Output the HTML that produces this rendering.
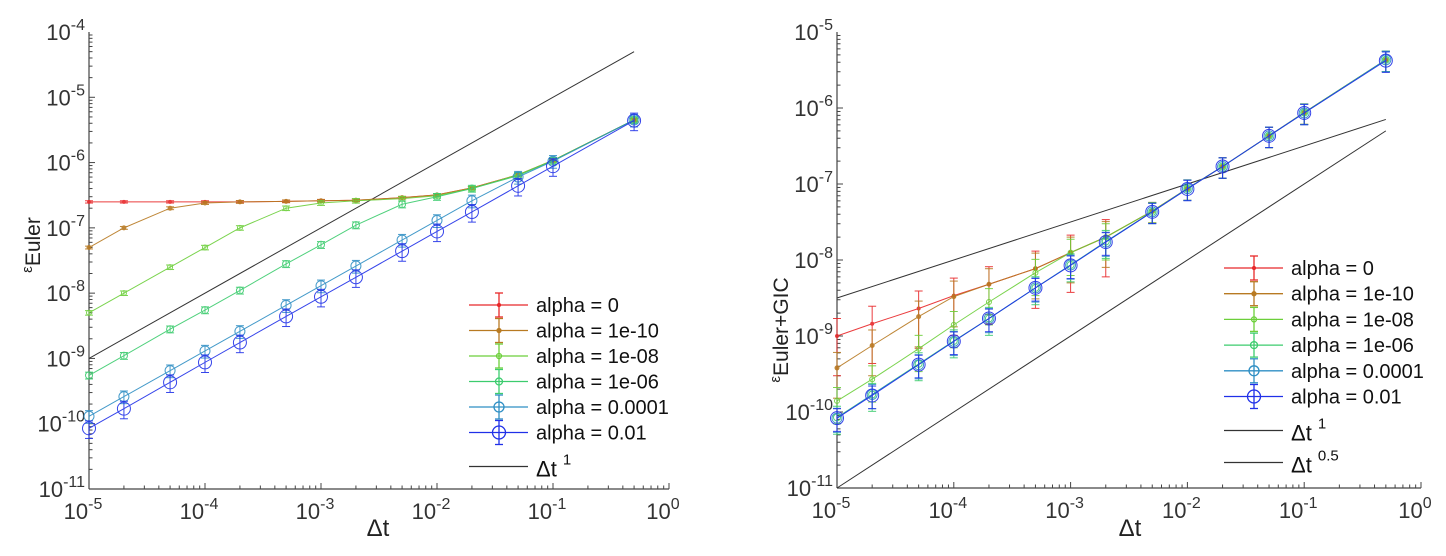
<!DOCTYPE html>
<html><head><meta charset="utf-8">
<style>
html,body{margin:0;padding:0;background:#fff;overflow:hidden;}
svg{display:block;font-family:"Liberation Sans",Arial,sans-serif;}
</style></head>
<body>
<svg id="chart" width="1446" height="556" viewBox="0 0 1446 556" xmlns="http://www.w3.org/2000/svg"></svg>
<script>
// ---- data ----
const dtValues = [1e-5,2e-5,5e-5,1e-4,2e-4,5e-4,1e-3,2e-3,5e-3,1e-2,2e-2,5e-2,1e-1,5e-1];
const seriesNames = ["alpha = 0","alpha = 1e-10","alpha = 1e-08","alpha = 1e-06","alpha = 0.0001","alpha = 0.01"];
const leftA0   = [2.5e-7,2.5e-7,2.5e-7,2.5e-7,2.5e-7,2.55e-7,2.6e-7,2.65e-7,2.9e-7,3.2e-7,4.1e-7,6.5e-7,1.08e-6,4.5e-6];
const leftA10  = [5e-8,1e-7,2e-7,2.4e-7,2.5e-7,2.55e-7,2.6e-7,2.65e-7,2.9e-7,3.2e-7,4.1e-7,6.5e-7,1.08e-6,4.5e-6];
const leftA8   = [5e-9,1e-8,2.5e-8,5e-8,1e-7,2e-7,2.4e-7,2.6e-7,2.8e-7,3.1e-7,4e-7,6.5e-7,1.08e-6,4.5e-6];
const leftA6   = [5.5e-10,1.1e-9,2.8e-9,5.5e-9,1.1e-8,2.8e-8,5.5e-8,1.1e-7,2.3e-7,3e-7,4e-7,6.3e-7,1.07e-6,4.5e-6];
const leftA4   = [1.3e-10,2.6e-10,6.5e-10,1.3e-9,2.6e-9,6.5e-9,1.3e-8,2.6e-8,6.5e-8,1.3e-7,2.6e-7,6e-7,1.05e-6,4.5e-6];
const leftA2   = [8.5e-11,1.7e-10,4.3e-10,8.7e-10,1.75e-9,4.4e-9,8.8e-9,1.75e-8,4.4e-8,8.8e-8,1.75e-7,4.4e-7,8.8e-7,4.4e-6];
const rightA0  = [1e-9,1.45e-9,2.3e-9,3.4e-9,4.8e-9,7.7e-9,1.25e-8,2e-8,4.4e-8,8.7e-8,1.7e-7,4.3e-7,8.7e-7,4.3e-6];
const rightA10 = [3.8e-10,7.5e-10,1.8e-9,3.3e-9,4.8e-9,7.7e-9,1.25e-8,2e-8,4.4e-8,8.7e-8,1.7e-7,4.3e-7,8.7e-7,4.3e-6];
const rightA8  = [1.4e-10,2.7e-10,6.8e-10,1.4e-9,2.8e-9,6.8e-9,1.25e-8,2e-8,4.4e-8,8.7e-8,1.7e-7,4.3e-7,8.7e-7,4.3e-6];
const rightA6  = [8.5e-11,1.7e-10,4.3e-10,8.6e-10,1.7e-9,4.3e-9,8.6e-9,1.75e-8,4.3e-8,8.7e-8,1.7e-7,4.3e-7,8.7e-7,4.3e-6];
const rightA4  = [8.3e-11,1.7e-10,4.2e-10,8.5e-10,1.7e-9,4.3e-9,8.6e-9,1.72e-8,4.3e-8,8.7e-8,1.7e-7,4.3e-7,8.6e-7,4.3e-6];
const rightA2  = [8.3e-11,1.65e-10,4.2e-10,8.5e-10,1.7e-9,4.3e-9,8.5e-9,1.72e-8,4.3e-8,8.6e-8,1.7e-7,4.3e-7,8.6e-7,4.2e-6];
const leftErrFrac  = [0.04,0.05,0.08,0.12,0.22,0.3];
const rightErrFrac = [0.7,0.6,0.5,0.4,0.35,0.33];
const rightErrFracLargeDt = 0.3;
const xTickExps = [-5,-4,-3,-2,-1,0];
const leftYTickExps = [-11,-10,-9,-8,-7,-6,-5,-4];
const rightYTickExps = [-11,-10,-9,-8,-7,-6,-5];

const colors = ["#e8282a","#b87a22","#6ccf3a","#3ccc6e","#2f8fc4","#2030e8"];
const markerR = [1.5,2,2.5,3.5,5,6.5];

const svg = document.getElementById('chart');
const NS = "http://www.w3.org/2000/svg";
function mk(tag, attrs, parent){
  const e = document.createElementNS(NS, tag);
  for (const k in attrs) e.setAttribute(k, attrs[k]);
  (parent||svg).appendChild(e);
  return e;
}
function logScale(v, e0, e1, p0, p1){ return p0 + (Math.log10(v)-e0)/(e1-e0)*(p1-p0); }

function drawPanel(cfg){
  const g = mk('g', {});
  
  
  const X = v => logScale(v, -5, 0, cfg.x0, cfg.x1);
  const Y = v => logScale(v, cfg.ymin, cfg.ymax, cfg.y0, cfg.y1);
  const ax = mk('g', {stroke:"#444","stroke-width":1.2,fill:"none"}, g);
  
  
  mk('line',{x1:cfg.x0,y1:cfg.y0,x2:cfg.x1,y2:cfg.y0},ax);
  mk('line',{x1:cfg.x0,y1:cfg.y0,x2:cfg.x0,y2:cfg.y1},ax);
  for (let e=-5;e<0;e++) for (let m=1;m<10;m++){
    const px = X(m*Math.pow(10,e)); const L = m===1?6:3.5;
    mk('line',{x1:px,y1:cfg.y0,x2:px,y2:cfg.y0-L,stroke:"#444","stroke-width":1},g);
  }
  mk('line',{x1:cfg.x1,y1:cfg.y0,x2:cfg.x1,y2:cfg.y0-6,stroke:"#444","stroke-width":1},g);
  xTickExps.forEach(e=>{
    const t = mk('text',{x:X(Math.pow(10,e))-6,y:cfg.y0+30,"font-size":22,fill:"#333","text-anchor":"middle"},g);
    
    
    t.innerHTML = '10<tspan dy="-10" font-size="16">'+e+'</tspan>';
  });
  for (let e=cfg.ymin;e<cfg.ymax;e++) for (let m=1;m<10;m++){
    const py = Y(m*Math.pow(10,e)); const L = m===1?6:3.5;
    mk('line',{x1:cfg.x0,y1:py,x2:cfg.x0+L,y2:py,stroke:"#444","stroke-width":1},g);
  }
  cfg.yTicks.forEach(e=>{
    const t = mk('text',{x:cfg.x0-4,y:Y(Math.pow(10,e))+8,"font-size":22,fill:"#333","text-anchor":"end"},g);
    
    
    t.innerHTML = '10<tspan dy="-10" font-size="16">'+e+'</tspan>';
  });
  cfg.refs.forEach(r=>{
    const a = dtValues[0], b = dtValues[dtValues.length-1];
    const l = mk('line',{x1:X(a),y1:Y(r.c*Math.pow(a,r.p)),x2:X(b),y2:Y(r.c*Math.pow(b,r.p)),stroke:"#333","stroke-width":1},g);
    
    
  });
  cfg.series.forEach((ys,i)=>{
    const sg = mk('g',{stroke:colors[i],fill:"none","stroke-width":1,opacity:0.9},g);
    
    
    mk('polyline',{points:ys.map((v,j)=>X(dtValues[j])+','+Y(v)).join(' ')},sg);
    ys.forEach((v,j)=>{
      const px=X(dtValues[j]);
      let f=cfg.err[i];
      if (cfg.errLarge && dtValues[j]>=5e-3) f=Math.min(f,cfg.errLarge);
      const yl=Y(v*(1-f)), yh=Y(v*(1+f));
      mk('line',{x1:px,y1:yl,x2:px,y2:yh},sg);
      mk('line',{x1:px-4,y1:yl,x2:px+4,y2:yl},sg);
      mk('line',{x1:px-4,y1:yh,x2:px+4,y2:yh},sg);
      if (i<2) mk('circle',{cx:px,cy:Y(v),r:markerR[i],fill:colors[i]},sg);
      else mk('circle',{cx:px,cy:Y(v),r:markerR[i]},sg);
    });
  });
  const lg = mk('g',{},g);
  
  
  seriesNames.forEach((n,i)=>{
    const y = cfg.legY + i*cfg.legStep;
    const eg = mk('g',{},lg);
    
    
    const lx = cfg.legX, cx = lx+30;
    const s = mk('g',{stroke:colors[i],fill:"none","stroke-width":1.3},eg);
    mk('line',{x1:lx,y1:y,x2:lx+59,y2:y},s);
    mk('line',{x1:cx,y1:y-12,x2:cx,y2:y+12},s);
    mk('line',{x1:cx-4,y1:y-12,x2:cx+4,y2:y-12},s);
    mk('line',{x1:cx-4,y1:y+12,x2:cx+4,y2:y+12},s);
    mk('circle',{cx:cx,cy:y,r:markerR[i],fill:i<2?colors[i]:"none"},s);
    const t = mk('text',{x:lx+67,y:y+7,"font-size":20,fill:"#111"},eg);
    t.textContent = n;
  });
  cfg.refs.forEach((r,k)=>{
    const y = cfg.legY + 5*cfg.legStep + 34 + k*32;
    const eg = mk('g',{},lg);
    
    
    mk('line',{x1:cfg.legX,y1:y,x2:cfg.legX+59,y2:y,stroke:"#333","stroke-width":1.2},eg);
    const t = mk('text',{x:cfg.legX+67,y:y+10,"font-size":22,fill:"#111"},eg);
    t.innerHTML = 'Δt <tspan dy="-12" font-size="15">'+r.label+'</tspan>';
  });
  const xt = mk('text',{x:cfg.xTitleX,y:536,"font-size":24,fill:"#222","text-anchor":"middle"},g);
  
  
  xt.textContent = 'Δt';
  const yt = mk('text',{transform:'translate('+cfg.yTitleX+','+cfg.yTitleY+') rotate(-90)',"font-size":21,fill:"#222","text-anchor":"middle"},g);
  
  
  yt.innerHTML = '<tspan font-size="15" dy="-6">ε</tspan><tspan dy="8">'+cfg.ySub+'</tspan>';
}

drawPanel({name:'left-panel-euler', x0:89, x1:669, y0:489, y1:32, ymin:-11, ymax:-4,
  yTicks:leftYTickExps, series:[leftA0,leftA10,leftA8,leftA6,leftA4,leftA2], err:leftErrFrac, errLarge:0,
  refs:[{c:1e-4,p:1,label:'1'}], legX:469, legY:305, legStep:25.5,
  xTitleX:378, yTitleX:38, yTitleY:245, ySub:'Euler'});
drawPanel({name:'right-panel-euler-gic', x0:837, x1:1421, y0:488, y1:32, ymin:-11, ymax:-5,
  yTicks:rightYTickExps, series:[rightA0,rightA10,rightA8,rightA6,rightA4,rightA2], err:rightErrFrac, errLarge:rightErrFracLargeDt,
  refs:[{c:1e-6,p:1,label:'1'},{c:1e-6,p:0.5,label:'0.5'}], legX:1224, legY:268, legStep:25.7,
  xTitleX:1130, yTitleX:786, yTitleY:330, ySub:'Euler+GIC'});
</script>
</body></html>
